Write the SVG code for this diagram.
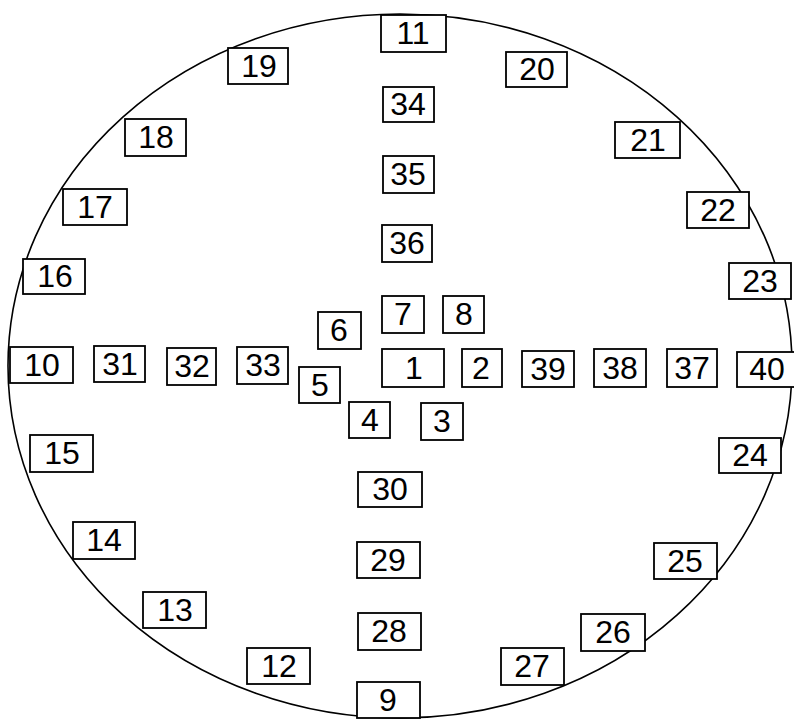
<svg xmlns="http://www.w3.org/2000/svg" width="794" height="719" viewBox="0 0 794 719">
<style>
  .b{fill:#fff;stroke:#000;stroke-width:1.8}
  .t{font-family:"Liberation Sans",Arial,sans-serif;font-size:32px;fill:#000;text-anchor:middle}
  .e{fill:none;stroke:#000;stroke-width:1.6}
</style>
<rect width="794" height="719" fill="#fff"/>
<ellipse id="outline" class="e" cx="400" cy="366" rx="392" ry="352"/>
<g id="n11"><rect class="b" x="381" y="15" width="65" height="37"/><text class="t" x="413" y="44">11</text></g>
<g id="n34"><rect class="b" x="383" y="87" width="51" height="35"/><text class="t" x="408" y="115">34</text></g>
<g id="n35"><rect class="b" x="383" y="156" width="51" height="37"/><text class="t" x="408" y="185">35</text></g>
<g id="n36"><rect class="b" x="382" y="225" width="50" height="37"/><text class="t" x="407" y="254">36</text></g>
<g id="n19"><rect class="b" x="228" y="48" width="60" height="36"/><text class="t" x="259" y="77">19</text></g>
<g id="n18"><rect class="b" x="125" y="119" width="61" height="37"/><text class="t" x="156" y="148">18</text></g>
<g id="n17"><rect class="b" x="63" y="189" width="64" height="36"/><text class="t" x="95" y="218">17</text></g>
<g id="n16"><rect class="b" x="23" y="259" width="62" height="35"/><text class="t" x="55" y="287">16</text></g>
<g id="n20"><rect class="b" x="506" y="52" width="61" height="35"/><text class="t" x="537" y="80">20</text></g>
<g id="n21"><rect class="b" x="615" y="122" width="65" height="36"/><text class="t" x="648" y="151">21</text></g>
<g id="n22"><rect class="b" x="687" y="192" width="62" height="36"/><text class="t" x="718" y="221">22</text></g>
<g id="n23"><rect class="b" x="729" y="263" width="62" height="36"/><text class="t" x="760" y="292">23</text></g>
<g id="n7"><rect class="b" x="382" y="296" width="42" height="37"/><text class="t" x="403" y="325">7</text></g>
<g id="n8"><rect class="b" x="443" y="296" width="41" height="37"/><text class="t" x="464" y="325">8</text></g>
<g id="n6"><rect class="b" x="318" y="312" width="43" height="37"/><text class="t" x="339" y="341">6</text></g>
<g id="n10"><rect class="b" x="10" y="347" width="63" height="36"/><text class="t" x="42" y="376">10</text></g>
<g id="n31"><rect class="b" x="94" y="346" width="51" height="36"/><text class="t" x="120" y="375">31</text></g>
<g id="n32"><rect class="b" x="167" y="348" width="49" height="37"/><text class="t" x="192" y="377">32</text></g>
<g id="n33"><rect class="b" x="237" y="347" width="51" height="37"/><text class="t" x="263" y="376">33</text></g>
<g id="n5"><rect class="b" x="299" y="367" width="41" height="36"/><text class="t" x="320" y="396">5</text></g>
<g id="n1"><rect class="b" x="382" y="349" width="62" height="38"/><text class="t" x="414" y="379">1</text></g>
<g id="n2"><rect class="b" x="462" y="349" width="40" height="38"/><text class="t" x="481" y="379">2</text></g>
<g id="n39"><rect class="b" x="522" y="351" width="52" height="36"/><text class="t" x="548" y="380">39</text></g>
<g id="n38"><rect class="b" x="594" y="349" width="52" height="38"/><text class="t" x="620" y="379">38</text></g>
<g id="n37"><rect class="b" x="667" y="349" width="50" height="38"/><text class="t" x="692" y="379">37</text></g>
<g id="n40"><rect class="b" x="737" y="352" width="62" height="35"/><text class="t" x="767" y="380">40</text></g>
<g id="n4"><rect class="b" x="349" y="402" width="41" height="36"/><text class="t" x="370" y="431">4</text></g>
<g id="n3"><rect class="b" x="421" y="403" width="42" height="37"/><text class="t" x="442" y="432">3</text></g>
<g id="n15"><rect class="b" x="30" y="435" width="63" height="37"/><text class="t" x="62" y="464">15</text></g>
<g id="n24"><rect class="b" x="719" y="438" width="62" height="35"/><text class="t" x="750" y="466">24</text></g>
<g id="n30"><rect class="b" x="358" y="472" width="64" height="35"/><text class="t" x="390" y="500">30</text></g>
<g id="n14"><rect class="b" x="73" y="522" width="62" height="37"/><text class="t" x="104" y="551">14</text></g>
<g id="n29"><rect class="b" x="357" y="542" width="63" height="36"/><text class="t" x="388" y="571">29</text></g>
<g id="n25"><rect class="b" x="654" y="543" width="63" height="36"/><text class="t" x="685" y="572">25</text></g>
<g id="n13"><rect class="b" x="143" y="592" width="63" height="36"/><text class="t" x="175" y="621">13</text></g>
<g id="n28"><rect class="b" x="358" y="613" width="63" height="37"/><text class="t" x="389" y="642">28</text></g>
<g id="n26"><rect class="b" x="581" y="614" width="64" height="37"/><text class="t" x="613" y="643">26</text></g>
<g id="n12"><rect class="b" x="247" y="648" width="63" height="36"/><text class="t" x="279" y="677">12</text></g>
<g id="n27"><rect class="b" x="501" y="648" width="63" height="37"/><text class="t" x="532" y="677">27</text></g>
<g id="n9"><rect class="b" x="357" y="682" width="63" height="36"/><text class="t" x="388" y="711">9</text></g>
</svg>
